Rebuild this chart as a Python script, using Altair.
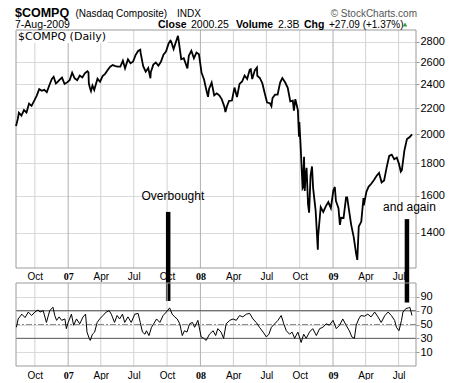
import altair as alt
import pandas as pd

# ---------------- data ----------------
price_dates = [
    "2006-08-10", "2006-08-15", "2006-08-18", "2006-08-25", "2006-09-01", "2006-09-08", "2006-09-15",
    "2006-09-22", "2006-09-29", "2006-10-06", "2006-10-13", "2006-10-20", "2006-10-27", "2006-11-03",
    "2006-11-10", "2006-11-17", "2006-11-22", "2006-11-28", "2006-12-01", "2006-12-08", "2006-12-15",
    "2006-12-22", "2006-12-29",
    "2007-01-05", "2007-01-12", "2007-01-19", "2007-01-26", "2007-02-02", "2007-02-09", "2007-02-16",
    "2007-02-23", "2007-02-26", "2007-02-27", "2007-03-02", "2007-03-05", "2007-03-09", "2007-03-14",
    "2007-03-16", "2007-03-23", "2007-03-30", "2007-04-06", "2007-04-13", "2007-04-20", "2007-04-27",
    "2007-05-04", "2007-05-11", "2007-05-18", "2007-05-25", "2007-06-01", "2007-06-07", "2007-06-15",
    "2007-06-22", "2007-06-29", "2007-07-06", "2007-07-13", "2007-07-19", "2007-07-20", "2007-07-27",
    "2007-08-03", "2007-08-10", "2007-08-16", "2007-08-17", "2007-08-24", "2007-08-31", "2007-09-07",
    "2007-09-14", "2007-09-21", "2007-09-28", "2007-10-05", "2007-10-10", "2007-10-12", "2007-10-19",
    "2007-10-26", "2007-10-31", "2007-11-02", "2007-11-09", "2007-11-16", "2007-11-26", "2007-11-30",
    "2007-12-07", "2007-12-14", "2007-12-21", "2007-12-28",
    "2008-01-04", "2008-01-11", "2008-01-18", "2008-01-22", "2008-01-25", "2008-02-01", "2008-02-08",
    "2008-02-15", "2008-02-22", "2008-02-29", "2008-03-07", "2008-03-10", "2008-03-14", "2008-03-20",
    "2008-03-28", "2008-04-04", "2008-04-11", "2008-04-18", "2008-04-25", "2008-05-02", "2008-05-09",
    "2008-05-16", "2008-05-19", "2008-05-23", "2008-05-30", "2008-06-05", "2008-06-06", "2008-06-13",
    "2008-06-20", "2008-06-27", "2008-07-03", "2008-07-11", "2008-07-15", "2008-07-18", "2008-07-25",
    "2008-08-01", "2008-08-08", "2008-08-14", "2008-08-22", "2008-08-29", "2008-09-05", "2008-09-12",
    "2008-09-15", "2008-09-19", "2008-09-26", "2008-09-29", "2008-09-30", "2008-10-03", "2008-10-09",
    "2008-10-10", "2008-10-13", "2008-10-15", "2008-10-17", "2008-10-20", "2008-10-24", "2008-10-27",
    "2008-10-31", "2008-11-04", "2008-11-07", "2008-11-14", "2008-11-20", "2008-11-21", "2008-11-28",
    "2008-12-05", "2008-12-12", "2008-12-19", "2008-12-26",
    "2009-01-02", "2009-01-06", "2009-01-09", "2009-01-16", "2009-01-20", "2009-01-23", "2009-01-30",
    "2009-02-06", "2009-02-09", "2009-02-13", "2009-02-20", "2009-02-27", "2009-03-06", "2009-03-09",
    "2009-03-13", "2009-03-20", "2009-03-26", "2009-03-27", "2009-04-03", "2009-04-09", "2009-04-17",
    "2009-04-24", "2009-05-01", "2009-05-08", "2009-05-15", "2009-05-22", "2009-05-29", "2009-06-05",
    "2009-06-12", "2009-06-19", "2009-06-26", "2009-07-02", "2009-07-07", "2009-07-10", "2009-07-17",
    "2009-07-24", "2009-07-31", "2009-08-07",
]
price_close = [
    2061, 2115, 2163, 2140, 2184, 2165, 2236,
    2218, 2258, 2300, 2357, 2342, 2350, 2330,
    2390, 2445, 2465, 2405, 2413, 2437, 2457,
    2401, 2415,
    2434, 2502, 2451, 2435, 2475, 2459, 2496,
    2515, 2504, 2407, 2368, 2340, 2387, 2350,
    2372, 2448, 2421, 2471, 2491, 2526, 2557,
    2572, 2562, 2558, 2557, 2613, 2541, 2626,
    2588, 2603, 2666, 2707, 2720, 2688, 2562,
    2511, 2544, 2452, 2505, 2576, 2596, 2566,
    2602, 2671, 2701, 2780, 2811, 2805, 2725,
    2804, 2859, 2811, 2627, 2637, 2541, 2661,
    2709, 2636, 2691, 2674,
    2504, 2440, 2340, 2292, 2361, 2413, 2304,
    2321, 2304, 2271, 2212, 2169, 2213, 2258,
    2261, 2370, 2290, 2402, 2423, 2476, 2445,
    2528, 2534, 2444, 2523, 2549, 2474, 2454,
    2406, 2316, 2245, 2239, 2215, 2282, 2310,
    2310, 2414, 2453, 2414, 2368, 2255, 2261,
    2180, 2273, 2183, 1983, 2092, 1947, 1645,
    1649, 1844, 1628, 1711, 1771, 1552, 1505,
    1721, 1780, 1647, 1516, 1316, 1384, 1536,
    1509, 1540, 1564, 1530,
    1632, 1652, 1571, 1529, 1440, 1477, 1476,
    1591, 1591, 1534, 1441, 1378, 1293, 1268,
    1431, 1457, 1587, 1545, 1622, 1653, 1673,
    1694, 1719, 1739, 1680, 1692, 1774, 1849,
    1858, 1827, 1838, 1797, 1747, 1756, 1886,
    1966, 1979, 2000,
]

rsi_dates = [
    "2006-08-11", "2006-08-16", "2006-08-26", "2006-09-04", "2006-09-13", "2006-09-22", "2006-10-01",
    "2006-10-10", "2006-10-15", "2006-10-24", "2006-11-02", "2006-11-11", "2006-11-20", "2006-11-25",
    "2006-11-30", "2006-12-07", "2006-12-14", "2006-12-23", "2006-12-27",
    "2007-01-01", "2007-01-10", "2007-01-16", "2007-01-24", "2007-02-02", "2007-02-11", "2007-02-18",
    "2007-02-22", "2007-02-28", "2007-03-03", "2007-03-09", "2007-03-15", "2007-03-22", "2007-03-29",
    "2007-04-07", "2007-04-16", "2007-04-24", "2007-04-30", "2007-05-09", "2007-05-16", "2007-05-23",
    "2007-05-31", "2007-06-06", "2007-06-15", "2007-06-24", "2007-07-04", "2007-07-13", "2007-07-19",
    "2007-07-25", "2007-08-01", "2007-08-05", "2007-08-12", "2007-08-19", "2007-08-25", "2007-09-02",
    "2007-09-11", "2007-09-20", "2007-09-29", "2007-10-08", "2007-10-15", "2007-10-22", "2007-10-29",
    "2007-11-05", "2007-11-12", "2007-11-18", "2007-11-25", "2007-12-02", "2007-12-10", "2007-12-16",
    "2007-12-25",
    "2008-01-03", "2008-01-10", "2008-01-17", "2008-01-26", "2008-02-05", "2008-02-12", "2008-02-18",
    "2008-02-27", "2008-03-05", "2008-03-12", "2008-03-22", "2008-03-31", "2008-04-09", "2008-04-18",
    "2008-04-27", "2008-05-07", "2008-05-16", "2008-05-25", "2008-06-03", "2008-06-12", "2008-06-22",
    "2008-07-01", "2008-07-08", "2008-07-15", "2008-07-24", "2008-08-02", "2008-08-11", "2008-08-18",
    "2008-08-25", "2008-09-03", "2008-09-10", "2008-09-17", "2008-09-26", "2008-10-05", "2008-10-12",
    "2008-10-19", "2008-10-28", "2008-11-06", "2008-11-16", "2008-11-25", "2008-12-04", "2008-12-13",
    "2008-12-22",
    "2009-01-01", "2009-01-10", "2009-01-19", "2009-01-28", "2009-02-06", "2009-02-15", "2009-02-22",
    "2009-03-01", "2009-03-06", "2009-03-13", "2009-03-19", "2009-03-29", "2009-04-07", "2009-04-16",
    "2009-04-26", "2009-05-05", "2009-05-14", "2009-05-24", "2009-06-02", "2009-06-11", "2009-06-20",
    "2009-06-25", "2009-07-02", "2009-07-09", "2009-07-13", "2009-07-21", "2009-07-28", "2009-08-01",
    "2009-08-07",
]
rsi_values = [
    46, 58, 65, 60, 68, 63, 68,
    71, 68, 70, 53, 70, 75, 63,
    56, 61, 56, 58, 44,
    53, 65, 49, 58, 51, 61, 65,
    39, 30, 27, 36, 39, 53, 58,
    63, 68, 70, 65, 53, 63, 58,
    65, 53, 61, 53, 65, 66, 53,
    39, 36, 41, 34, 46, 51, 58,
    53, 63, 68, 74, 65, 61, 58,
    51, 34, 41, 39, 51, 53, 46,
    56,
    32, 30, 27, 36, 41, 34, 44,
    39, 30, 51, 56, 58, 56, 63,
    61, 65, 66, 58, 53, 46, 39,
    32, 36, 46, 51, 56, 63, 51,
    41, 36, 39, 30, 39, 24, 36,
    30, 39, 44, 34, 44, 46, 51,
    49,
    56, 44, 49, 58, 49, 41, 32,
    30, 49, 58, 63, 62, 65, 61,
    68, 61, 53, 63, 68, 63, 56,
    46, 41, 56, 68, 73, 74, 75,
    63,
]

quarter_starts = [
    "2006-10-01", "2007-01-01", "2007-04-01", "2007-07-01", "2007-10-01", "2008-01-01",
    "2008-04-01", "2008-07-01", "2008-10-01", "2009-01-01", "2009-04-01", "2009-07-01",
]
price_ticks = [1400, 1600, 1800, 2000, 2200, 2400, 2600, 2800]
rsi_ticks = [10, 30, 50, 70, 90]
rsi_bands = [30, 70]
rsi_center = [50]

note_texts = ["Overbought", "and again"]
note_bar_dates = ["2007-10-04", "2009-07-24"]
note_bar_top = [1509, 1470]
note_bar_bottom = [1092, 1086]
note_text_dates = ["2007-10-17", "2009-07-31"]
note_text_price = [1576, 1515]

X_START, X_END = "2006-08-10", "2009-08-18"
PRICE_DOMAIN = [1231, 2921]
RSI_DOMAIN = [-10, 110]

# ---------------- layout ----------------
W, H = 400, 336
PRICE_BOTTOM = 238
RSI_TOP = 253


def dt(s):
    y, m, d = (int(v) for v in s.split("-"))
    return alt.DateTime(year=y, month=m, date=d)


year_test = "month(datum.value) == 0"
x_axis_common = dict(
    values=[dt(q) for q in quarter_starts],
    labelExpr="month(datum.value) == 0 ? timeFormat(datum.value, '%y') : timeFormat(datum.value, '%b')",
    labelFont={"condition": {"test": year_test, "value": "Liberation Serif"}, "value": "Liberation Sans"},
    labelFontWeight={"condition": {"test": year_test, "value": "bold"}, "value": "normal"},
    labelFontSize=10,
    labelColor="#000000",
    ticks=False,
    domain=False,
    grid=False,
    title=None,
)
x_scale = alt.Scale(domain=[dt(X_START), dt(X_END)])


def px(field):
    return alt.X(field, type="temporal", scale=x_scale,
                 axis=alt.Axis(orient="bottom", offset=-(H - PRICE_BOTTOM), labelPadding=3, **x_axis_common))


def rx(field):
    return alt.X(field, type="temporal", scale=x_scale,
                 axis=alt.Axis(orient="bottom", offset=0, labelPadding=4, **x_axis_common))


def py(field):
    return alt.Y(field, type="quantitative",
                 scale=alt.Scale(type="log", domain=PRICE_DOMAIN, range=[PRICE_BOTTOM, 0], nice=False),
                 axis=alt.Axis(orient="right", values=price_ticks, format="d", grid=True,
                               gridColor="#dadada", tickSize=3, tickColor="#999999", domain=False,
                               labelFont="Liberation Sans", labelFontSize=11, labelColor="#000000",
                               labelPadding=1, title=None))


def ry(field):
    return alt.Y(field, type="quantitative",
                 scale=alt.Scale(domain=RSI_DOMAIN, range=[H, RSI_TOP], nice=False, zero=False),
                 axis=alt.Axis(orient="right", values=rsi_ticks, grid=True, gridColor="#dadada",
                               tickSize=3, tickColor="#999999", domain=False,
                               labelFont="Liberation Sans", labelFontSize=11, labelColor="#000000",
                               labelPadding=1, title=None))


price_df = pd.DataFrame({"date": pd.to_datetime(price_dates), "close": price_close})
rsi_df = pd.DataFrame({"date": pd.to_datetime(rsi_dates), "rsi": rsi_values})
quarter_df = pd.DataFrame({
    "date": pd.to_datetime(quarter_starts),
    "plo": PRICE_DOMAIN[0], "phi": PRICE_DOMAIN[1],
    "rlo": RSI_DOMAIN[0], "rhi": RSI_DOMAIN[1],
})
frame_df = pd.DataFrame({
    "start": pd.to_datetime([X_START]), "end": pd.to_datetime([X_END]),
    "plo": [PRICE_DOMAIN[0]], "phi": [PRICE_DOMAIN[1]],
    "rlo": [RSI_DOMAIN[0]], "rhi": [RSI_DOMAIN[1]],
})
bar_df = pd.DataFrame({"date": pd.to_datetime(note_bar_dates), "top": note_bar_top, "bottom": note_bar_bottom})
note_df = pd.DataFrame({"date": pd.to_datetime(note_text_dates), "price": note_text_price, "text": note_texts})

grid_color = alt.condition("month(datum.date) == 0", alt.value("#b0b0b0"), alt.value("#d2d2d2"))

# ---------------- price panel ----------------
p_vgrid = alt.Chart(quarter_df).mark_rule(strokeWidth=1).encode(
    x=px("date"), y=py("plo"), y2="phi", color=grid_color)
p_labelbg = alt.Chart(pd.DataFrame({"t": ["$COMPQ (Daily)"]})).mark_rect(
    x=1, x2=92, y=1, y2=13, fill="white")
p_label = alt.Chart(pd.DataFrame({"t": ["$COMPQ (Daily)"]})).mark_text(
    x=2, y=10, align="left", baseline="alphabetic", font="DejaVu Sans", fontSize=11, color="#000"
).encode(text="t:N")
p_frame = alt.Chart(frame_df).mark_rect(fillOpacity=0, stroke="#9a9a9a", strokeWidth=1).encode(
    x=px("start"), x2="end", y=py("plo"), y2="phi")
p_line = alt.Chart(price_df).mark_line(color="#000000", strokeWidth=1.8).encode(
    x=px("date"), y=py("close"))
p_bars = alt.Chart(bar_df).mark_rule(color="#000000", strokeWidth=4.5).encode(
    x=px("date"), y=py("top"), y2="bottom")
p_notes = alt.Chart(note_df).mark_text(
    align="center", baseline="alphabetic", font="Liberation Sans", fontSize=12, color="#000"
).encode(x=px("date"), y=py("price"), text="text:N")

price_panel = alt.layer(p_vgrid, p_labelbg, p_label, p_frame, p_line, p_bars, p_notes)

# ---------------- RSI panel ----------------
r_vgrid = alt.Chart(quarter_df).mark_rule(strokeWidth=1).encode(
    x=rx("date"), y=ry("rlo"), y2="rhi", color=grid_color)
r_bands = alt.Chart(pd.DataFrame({"level": rsi_bands})).mark_rule(color="#5a5a5a", strokeWidth=1).encode(
    y=ry("level"))
r_center = alt.Chart(pd.DataFrame({"level": rsi_center})).mark_rule(
    color="#8a8a8a", strokeWidth=1, strokeDash=[6, 2, 2, 2]).encode(y=ry("level"))
r_frame = alt.Chart(frame_df).mark_rect(fillOpacity=0, stroke="#9a9a9a", strokeWidth=1).encode(
    x=rx("start"), x2="end", y=ry("rlo"), y2="rhi")
r_line = alt.Chart(rsi_df).mark_line(color="#000000", strokeWidth=1).encode(
    x=rx("date"), y=ry("rsi"))

rsi_panel = alt.layer(r_vgrid, r_bands, r_center, r_frame, r_line)


# ---------------- header ----------------
def header(text, x, y, size, weight="normal", color="#000000", align="left", font="Liberation Sans"):
    return alt.Chart(pd.DataFrame({"t": [text]})).mark_text(
        x=x, y=y, fontSize=size, fontWeight=weight, color=color, align=align,
        baseline="alphabetic", font=font
    ).encode(text="t:N")


headers = [
    header("$COMPQ", -1, -13, 12.5, weight="bold"),
    header("(Nasdaq Composite)", 59.5, -13, 10),
    header("INDX", 161, -13, 10),
    header("\u00a9 StockCharts.com", 401, -13, 10, color="#555555", align="right"),
    header("7-Aug-2009", -1, -2, 10.5),
    header("Close", 142, -2, 10.5, weight="bold"),
    header("2000.25", 175, -2, 10.5),
    header("Volume", 220, -2, 10.5, weight="bold"),
    header("2.3B", 262, -2, 10.5),
    header("Chg", 288, -2, 10.5, weight="bold"),
    header("+27.09 (+1.37%)", 313, -2, 10),
]
triangle = alt.Chart(pd.DataFrame({"t": ["up"]})).mark_point(
    shape="triangle-up", filled=True, size=22, color="#2e9e3a", x=389, y=-5.5, opacity=1
).encode(tooltip="t:N")

chart = alt.layer(
    price_panel, rsi_panel, *headers, triangle
).resolve_scale(
    x="independent", y="independent", color="independent"
).properties(
    width=W, height=H,
    autosize=alt.AutoSizeParams(type="none"),
    padding={"left": 8, "top": 22, "right": 36, "bottom": 14},
    background="white",
).configure_view(stroke=None)

chart.save("out.html", embed_options={"renderer": "svg", "actions": False})
